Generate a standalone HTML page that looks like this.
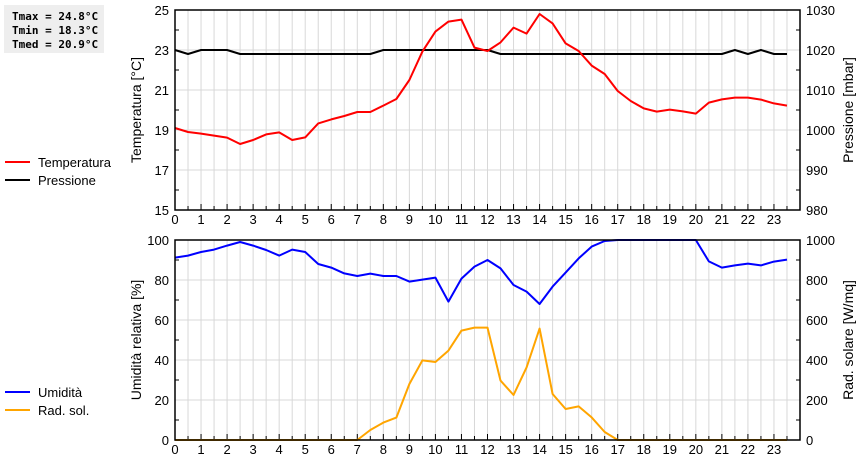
<!DOCTYPE html>
<html><head><meta charset="utf-8"><style>
body{margin:0;background:#fff;}
svg{display:block;font-family:"Liberation Sans","DejaVu Sans",sans-serif;}
</style></head><body>
<svg id="c" width="860" height="460">
<rect x="4" y="5" width="100" height="48" fill="#eeeeee"/>
<g font-family="'DejaVu Sans Mono','Liberation Mono',monospace" font-size="11" font-weight="bold" fill="#000">
<text x="12" y="20">Tmax = 24.8°C</text>
<text x="12" y="34">Tmin = 18.3°C</text>
<text x="12" y="48">Tmed = 20.9°C</text>
</g>
<g id="top"></g><g id="bot"></g>
<g font-size="13" fill="#000">
<line x1="5" y1="162" x2="30" y2="162" stroke="#ff0000" stroke-width="2"/>
<text x="38" y="167">Temperatura</text>
<line x1="5" y1="180" x2="30" y2="180" stroke="#000" stroke-width="2"/>
<text x="38" y="185">Pressione</text>
<line x1="5" y1="392" x2="30" y2="392" stroke="#0000ff" stroke-width="2"/>
<text x="38" y="397">Umidità</text>
<line x1="5" y1="410" x2="30" y2="410" stroke="#ffa500" stroke-width="2"/>
<text x="38" y="415">Rad. sol.</text>
</g>
<g font-size="14" fill="#000">
<text transform="translate(141,110) rotate(-90)" text-anchor="middle">Temperatura [°C]</text>
<text transform="translate(853,110) rotate(-90)" text-anchor="middle">Pressione [mbar]</text>
<text transform="translate(141,340) rotate(-90)" text-anchor="middle">Umidità relativa [%]</text>
<text transform="translate(853,340) rotate(-90)" text-anchor="middle">Rad. solare [W/mq]</text>
</g>
</svg>
<script>
const hours=[0,0.5,1,1.5,2,2.5,3,3.5,4,4.5,5,5.5,6,6.5,7,7.5,8,8.5,9,9.5,10,10.5,11,11.5,12,12.5,13,13.5,14,14.5,15,15.5,16,16.5,17,17.5,18,18.5,19,19.5,20,20.5,21,21.5,22,22.5,23,23.5];
const temperature=[19.1,18.9,18.82,18.72,18.62,18.3,18.5,18.78,18.88,18.5,18.63,19.33,19.53,19.7,19.9,19.9,20.22,20.55,21.5,22.92,23.92,24.42,24.52,23.12,22.95,23.38,24.12,23.82,24.8,24.33,23.33,22.95,22.22,21.8,20.95,20.45,20.08,19.92,20.02,19.93,19.82,20.37,20.53,20.62,20.62,20.52,20.33,20.22];
const pressure=[1020,1019,1020,1020,1020,1019,1019,1019,1019,1019,1019,1019,1019,1019,1019,1019,1020,1020,1020,1020,1020,1020,1020,1020,1020,1019,1019,1019,1019,1019,1019,1019,1019,1019,1019,1019,1019,1019,1019,1019,1019,1019,1019,1020,1019,1020,1019,1019];
const humidity=[91.2,92.2,94,95.2,97.2,99,97.2,95,92.2,95.2,94,88,86.2,83.3,82,83.2,82,82,79.2,80.2,81.2,69.2,80.7,86.7,90,85.8,77.5,74.2,68,76.7,83.7,90.8,96.7,99.5,100,100,100,100,100,100,100,89.3,86.2,87.3,88.2,87.3,89.2,90.2];
const radiation=[0,0,0,0,0,0,0,0,0,0,0,0,0,0,0,50,87,112,280,398,390,447,547,562,562,297,225,363,557,230,155,168,113,40,0,0,0,0,0,0,0,0,0,0,0,0,0,0];
const tempTicks=[15,17,19,21,23,25];
const pressTicks=[980,990,1000,1010,1020,1030];
const humTicks=[0,20,40,60,80,100];
const radTicks=[0,200,400,600,800,1000];
const hourTicks=[0,1,2,3,4,5,6,7,8,9,10,11,12,13,14,15,16,17,18,19,20,21,22,23];

const NS="http://www.w3.org/2000/svg";
const X0=175,X1=800;
const xs=h=>X0+h*(X1-X0)/24;
function mk(p,t,a){const e=document.createElementNS(NS,t);for(const k in a)e.setAttribute(k,a[k]);p.appendChild(e);return e;}
function panel(g,top,lmin,lmax,rmin,rmax,lt,rt,series,tag){
 const bot=top+200;
 const yl=v=>bot-(v-lmin)/(lmax-lmin)*200;
 const yr=v=>bot-(v-rmin)/(rmax-rmin)*200;
 for(let h=0.5;h<24;h+=0.5){const l=mk(g,'line',{x1:xs(h),x2:xs(h),y1:top,y2:bot,stroke:'#d8d8d8','stroke-width':1});
  
  }
 for(let i=0;i<lt.length;i++){const y=yl(lt[i]);
  const ln=mk(g,'line',{x1:X0,x2:X1,y1:y,y2:y,stroke:'#d8d8d8','stroke-width':1});
  
  
  const t=mk(g,'text',{x:X0-6,y:y+5,'text-anchor':'end','font-size':13});t.textContent=lt[i];
  
  
  const t2=mk(g,'text',{x:X1+6,y:yr(rt[i])+5,'font-size':13});t2.textContent=rt[i];
  
  }
 for(let i=0;i<lt.length-1;i++){const ym=(yl(lt[i])+yl(lt[i+1]))/2;
  mk(g,'line',{x1:X0,x2:X0+4,y1:ym,y2:ym,stroke:'#000'});mk(g,'line',{x1:X1-4,x2:X1,y1:ym,y2:ym,stroke:'#000'});}
 for(let h=0;h<24;h+=0.5){mk(g,'line',{x1:xs(h),x2:xs(h),y1:bot,y2:bot-(h%1?4:6),stroke:'#000'});}
 hourTicks.forEach(h=>{const t=mk(g,'text',{x:xs(h),y:bot+14,'text-anchor':'middle','font-size':13});t.textContent=h;
  
  });
 series.forEach(s=>{const pts=hours.map((h,i)=>xs(h)+','+(s.right?yr(s.d[i]):yl(s.d[i]))).join(' ');
  const pl=mk(g,'polyline',{points:pts,fill:'none',stroke:s.c,'stroke-width':2,'stroke-linejoin':'round'});
  
  });
 const fr=mk(g,'rect',{x:X0,y:top,width:X1-X0,height:200,fill:'none',stroke:'#000','stroke-width':1.5});
 
 
}
panel(document.getElementById('top'),10,15,25,980,1030,tempTicks,pressTicks,
 [{d:pressure,c:'#000',right:true,n:'pressure-line'},{d:temperature,c:'#ff0000',n:'temperature-line'}],'top');
panel(document.getElementById('bot'),240,0,100,0,1000,humTicks,radTicks,
 [{d:radiation,c:'#ffa500',right:true,n:'radiation-line'},{d:humidity,c:'#0000ff',n:'humidity-line'}],'bottom');
</script>
</body></html>
